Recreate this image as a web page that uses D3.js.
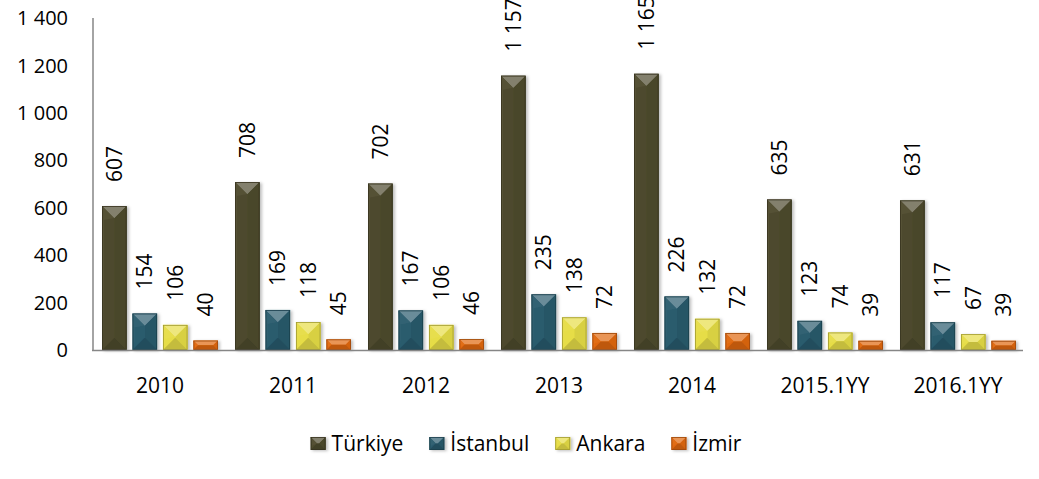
<!DOCTYPE html>
<html>
<head>
<meta charset="utf-8">
<script src="https://cdn.jsdelivr.net/npm/d3@7"></script>
<style>
  body { margin: 0; background: #fff; }
  text { font-family: "Open Sans", "Noto Sans", sans-serif; fill: #000; }
</style>
</head>
<body>
<div id="chart"></div>
<script>
// Data
const categories = ['2010', '2011', '2012', '2013', '2014', '2015.1YY', '2016.1YY'];
const seriesNames = ['Türkiye', 'İstanbul', 'Ankara', 'İzmir'];
const turkiye  = [607, 708, 702, 1157, 1165, 635, 631];
const istanbul = [154, 169, 167, 235, 226, 123, 117];
const ankara   = [106, 118, 106, 138, 132, 74, 67];
const izmir    = [40, 45, 46, 72, 72, 39, 39];
const yTicks = [0, 200, 400, 600, 800, 1000, 1200, 1400];

const seriesValues = [turkiye, istanbul, ankara, izmir];
const colors = ['#4e4a2e', '#2a5b6d', '#e6dd46', '#e0680f'];

const width = 1039;
const height = 479;

const svg = d3.select('#chart')
    .append('svg')
    .attr('width', width)
    .attr('height', height);

const defs = svg.append('defs');
const shadow = defs.append('filter').attr('id', 'shadow')
    .attr('x', '-20%').attr('y', '-20%').attr('width', '160%').attr('height', '160%');
shadow.append('feDropShadow')
    .attr('dx', 2).attr('dy', 1).attr('stdDeviation', 1.5)
    .attr('flood-color', '#000').attr('flood-opacity', 0.25);

// space as thousands separator, like the source
const fmt = d3.formatLocale({decimal: ',', thousands: ' ', grouping: [3], currency: ['', '']}).format(',d');

// Scales
const x0 = d3.scaleBand().domain(categories).range([93, 1024]).padding(0);
const x1 = d3.scaleBand().domain(seriesNames).range([9, 125]).paddingInner(0.19);
const y = d3.scaleLinear().domain([0, 1400]).range([350, 18]);

// Beveled bar
function bevelBar(g, x, top, w, h, color) {
    const c = d3.color(color);
    const b = Math.min(w / 2, h / 2, 12);
    const x1b = x + w, bot = top + h;
    const grp = g.append('g').attr('filter', 'url(#shadow)');
    grp.append('rect').attr('x', x).attr('y', top).attr('width', w).attr('height', h).attr('fill', c.formatHex());
    // top face
    grp.append('polygon')
        .attr('points', [[x, top], [x1b, top], [x1b - b, top + b], [x + b, top + b]].join(' '))
        .attr('fill', d3.interpolateRgb(c, '#fff')(0.3));
    // left face
    grp.append('polygon')
        .attr('points', [[x, top], [x + b, top + b], [x + 2, top + b + 2], [x + 2, bot - 2]].join(' '))
        .attr('fill', d3.interpolateRgb(c, '#fff')(0.04));
    // right face
    grp.append('polygon')
        .attr('points', [[x1b, top], [x1b - b, top + b], [x1b - b, bot - b], [x1b, bot]].join(' '))
        .attr('fill', d3.interpolateRgb(c, '#000')(0.06));
    // bottom face
    grp.append('polygon')
        .attr('points', [[x, bot], [x1b, bot], [x1b - b, bot - b], [x + b, bot - b]].join(' '))
        .attr('fill', d3.interpolateRgb(c, '#000')(0.15));
    grp.append('rect').attr('x', x + 0.5).attr('y', top + 0.5).attr('width', w - 1).attr('height', Math.max(0, h - 1))
        .attr('fill', 'none').attr('stroke', d3.interpolateRgb(c, '#000')(0.3)).attr('stroke-width', 0.8);
}

// Y axis line
svg.append('line')
    .attr('x1', 93).attr('x2', 93).attr('y1', y(1400)).attr('y2', y(0) + 1)
    .attr('stroke', '#868686').attr('stroke-width', 1.5);

// Y tick labels
svg.append('g').selectAll('text')
    .data(yTicks)
    .join('text')
    .attr('x', 68)
    .attr('y', d => y(d))
    .attr('dy', '0.36em')
    .attr('text-anchor', 'end')
    .attr('font-size', 20)
    .text(d => fmt(d));

// Bars
const barsG = svg.append('g');
categories.forEach((cat, i) => {
    seriesNames.forEach((s, j) => {
        const v = seriesValues[j][i];
        const bx = x0(cat) + x1(s);
        bevelBar(barsG, bx, y(v), x1.bandwidth(), y(0) - y(v), colors[j]);
    });
});

// X axis line
svg.append('line')
    .attr('x1', 92).attr('x2', 1023).attr('y1', y(0) + 0.5).attr('y2', y(0) + 0.5)
    .attr('stroke', '#868686').attr('stroke-width', 1.5);

// Data labels
const labelsG = svg.append('g');
categories.forEach((cat, i) => {
    seriesNames.forEach((s, j) => {
        const v = seriesValues[j][i];
        const cx = x0(cat) + x1(s) + x1.bandwidth() / 2;
        const ty = y(v) - 24;
        labelsG.append('text')
            .attr('transform', `translate(${cx},${ty}) rotate(-90)`)
            .attr('dy', '0.36em')
            .attr('text-anchor', 'start')
            .attr('font-size', 21)
            .text(fmt(v));
    });
});

// X category labels
svg.append('g').selectAll('text')
    .data(categories)
    .join('text')
    .attr('x', d => x0(d) + 9 + 58)
    .attr('y', 393)
    .attr('text-anchor', 'middle')
    .attr('font-size', 21)
    .text(d => d);

// Legend
const legend = svg.append('g');
let lx = 0;
seriesNames.forEach((s, j) => {
    const item = legend.append('g').attr('transform', `translate(${lx},0)`);
    bevelBar(item, 0, -6, 15, 13, colors[j]);
    const t = item.append('text')
        .attr('x', 21)
        .attr('y', 0)
        .attr('dy', '0.36em')
        .attr('font-size', 21)
        .text(s);
    lx += 21 + t.node().getComputedTextLength() + 26;
});
const legendW = lx - 26;
legend.attr('transform', `translate(${526 - legendW / 2},443)`);
</script>
</body>
</html>
